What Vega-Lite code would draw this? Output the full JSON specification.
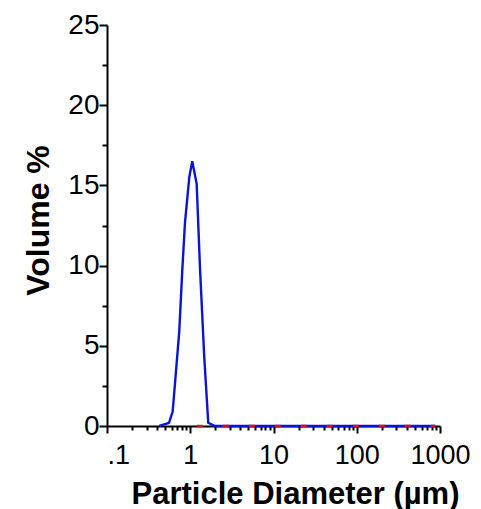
{
  "$schema": "https://vega.github.io/schema/vega-lite/v6.json",
  "width": 333,
  "height": 401,
  "autosize": "none",
  "padding": {"left": 107, "top": 25, "right": 41, "bottom": 83},
  "background": "white",
  "config": {
    "view": {"stroke": null},
    "font": "Liberation Sans"
  },
  "datasets": {
    "blue": [
      {"d": 0.424, "v": 0},
      {"d": 0.556, "v": 0.2},
      {"d": 0.615, "v": 0.9},
      {"d": 0.738, "v": 5.9},
      {"d": 0.802, "v": 9.7},
      {"d": 0.865, "v": 12.7},
      {"d": 0.973, "v": 15.5},
      {"d": 1.057, "v": 16.5},
      {"d": 1.194, "v": 15.1},
      {"d": 1.308, "v": 9.9},
      {"d": 1.473, "v": 4.3},
      {"d": 1.645, "v": 0.2},
      {"d": 1.98, "v": 0},
      {"d": 875, "v": 0}
    ],
    "red": [
      {"d": 1.2, "v": 0},
      {"d": 875, "v": 0}
    ]
  },
  "layer": [
    {
      "data": {"name": "blue"},
      "mark": {"type": "line", "color": "#0a14d4", "strokeWidth": 2.4},
      "encoding": {
        "x": {
          "field": "d",
          "type": "quantitative",
          "scale": {"type": "log", "domain": [0.1, 1000], "nice": false},
          "axis": {
            "title": "Particle Diameter (µm)",
            "titleFont": "Liberation Sans",
            "titleFontSize": 31,
            "titleFontWeight": "bold",
            "titleColor": "black",
            "titleX": 188,
            "titleY": 77,
            "titleAlign": "center",
            "titleBaseline": "alphabetic",
            "values": [0.1, 0.2, 0.3, 0.4, 0.5, 0.6, 0.7, 0.8, 0.9, 1, 2, 3, 4, 5, 6, 7, 8, 9, 10, 20, 30, 40, 50, 60, 70, 80, 90, 100, 200, 300, 400, 500, 600, 700, 800, 900, 1000],
            "labelExpr": "datum.value == 0.1 ? '.1' : (abs(log(datum.value)/LN10 - round(log(datum.value)/LN10)) < 1e-6 ? format(datum.value, 'd') : '')",
            "labelOverlap": false,
            "labelFlush": false,
            "labelFont": "Liberation Sans",
            "labelFontSize": 27,
            "labelColor": "black",
            "labelPadding": 9,
            "labelAlign": {"condition": {"test": "datum.value == 0.1", "value": "left"}, "value": "center"},
            "tickSize": {"condition": {"test": "abs(log(datum.value)/LN10 - round(log(datum.value)/LN10)) < 1e-6", "value": 7}, "value": 4},
            "tickColor": "black",
            "tickWidth": 2,
            "domainColor": "black",
            "domainWidth": 2,
            "grid": false
          }
        },
        "y": {
          "field": "v",
          "type": "quantitative",
          "scale": {"domain": [0, 25], "nice": false},
          "axis": {
            "title": "Volume %",
            "titleFont": "Liberation Sans",
            "titleFontSize": 32,
            "titleFontWeight": "bold",
            "titleColor": "black",
            "titleAngle": -90,
            "titleX": -59,
            "titleY": 195,
            "titleAlign": "center",
            "titleBaseline": "alphabetic",
            "values": [0, 2.5, 5, 7.5, 10, 12.5, 15, 17.5, 20, 22.5, 25],
            "labelExpr": "datum.value % 5 == 0 ? datum.label : ''",
            "labelOverlap": false,
            "labelFlush": false,
            "labelFont": "Liberation Sans",
            "labelFontSize": 28,
            "labelColor": "black",
            "labelPadding": 0,
            "tickSize": {"condition": {"test": "datum.value % 5 == 0", "value": 8}, "value": 5},
            "tickColor": "black",
            "tickWidth": 2,
            "domainColor": "black",
            "domainWidth": 2,
            "grid": false
          }
        }
      }
    },
    {
      "data": {"name": "red"},
      "mark": {"type": "line", "color": "#e01010", "strokeWidth": 2.4, "strokeDash": [6, 20]},
      "encoding": {
        "x": {"field": "d", "type": "quantitative"},
        "y": {"field": "v", "type": "quantitative"}
      }
    }
  ]
}
